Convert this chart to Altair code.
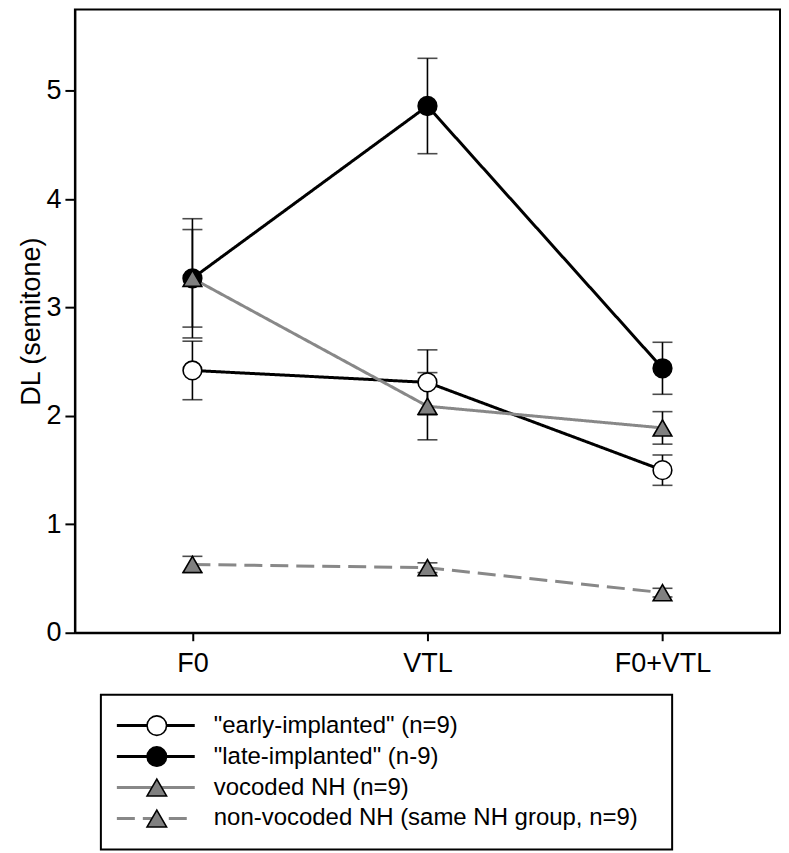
import altair as alt
import pandas as pd

# ---------------- data ----------------
conditions = ["F0", "VTL", "F0+VTL"]
series_names = [
    '"early-implanted" (n=9)',
    '"late-implanted" (n-9)',
    'vocoded NH (n=9)',
    'non-vocoded NH (same NH group, n=9)',
]
early_mean = [2.42, 2.31, 1.50]
early_err = [0.27, 0.30, 0.14]
late_mean = [3.27, 4.86, 2.44]
late_err = [0.55, 0.44, 0.24]
voc_mean = [3.27, 2.09, 1.89]
voc_err = [0.45, 0.31, 0.15]
nonvoc_mean = [0.63, 0.60, 0.37]
nonvoc_err = [0.075, 0.045, 0.04]
y_ticks = [0, 1, 2, 3, 4, 5]

# ---------------- styles ----------------
line_colors = ["#000000", "#000000", "#888888", "#888888"]
marker_fills = ["#ffffff", "#000000", "#808080", "#808080"]
marker_shapes = ["circle", "circle", "triangle-up", "triangle-up"]
dashes = [[1, 0], [1, 0], [1, 0], [18, 8]]
FONT = "Liberation Sans"

means = [early_mean, late_mean, voc_mean, nonvoc_mean]
errs = [early_err, late_err, voc_err, nonvoc_err]
rows = []
for s, m_list, e_list in zip(series_names, means, errs):
    for c, m, e in zip(conditions, m_list, e_list):
        rows.append({"series": s, "cond": c, "mean": m, "err": e})
df = pd.DataFrame(rows)

x_enc = alt.X(
    "cond:N",
    sort=conditions,
    scale=alt.Scale(type="point", domain=conditions, padding=0.5),
    axis=alt.Axis(
        title=None, labelAngle=0, labelFontSize=27, labelFont=FONT,
        labelColor="black", tickColor="black", tickSize=8, tickWidth=2,
        domainColor="black", domainWidth=2, labelPadding=10, grid=False,
    ),
)
y_scale = alt.Scale(domain=[0, 5.75], nice=False, zero=True)
y_axis = alt.Axis(
    values=y_ticks, title="DL (semitone)", grid=False, tickSize=10, tickWidth=2,
    labelFontSize=27, labelFont=FONT, labelColor="black", labelPadding=4,
    titleFontSize=27, titleFont=FONT, titleFontWeight="normal", titleColor="black",
    titlePadding=0, tickColor="black", domainColor="black", domainWidth=2,
)


def yq(field):
    return alt.Y(field, scale=y_scale, axis=y_axis, title="DL (semitone)")


base = alt.Chart(df).transform_calculate(
    lo="datum.mean - datum.err", hi="datum.mean + datum.err"
)

lines = base.mark_line(strokeWidth=3).encode(
    x=x_enc,
    y=yq("mean:Q"),
    color=alt.Color("series:N", scale=alt.Scale(domain=series_names, range=line_colors), legend=None),
    strokeDash=alt.StrokeDash("series:N", scale=alt.Scale(domain=series_names, range=dashes), legend=None),
)

err_rule = base.mark_rule(color="black", strokeWidth=1.6).encode(
    x=x_enc,
    y=yq("lo:Q"),
    y2="hi:Q",
)
cap_lo = base.mark_tick(color="black", size=20, thickness=1.6).encode(
    x=x_enc, y=yq("lo:Q")
)
cap_hi = base.mark_tick(color="black", size=20, thickness=1.6).encode(
    x=x_enc, y=yq("hi:Q")
)

points = base.mark_point(filled=True, opacity=1, stroke="black", strokeWidth=1.6, size=350).encode(
    x=x_enc,
    y=yq("mean:Q"),
    shape=alt.Shape("series:N", scale=alt.Scale(domain=series_names, range=marker_shapes), legend=None),
    fill=alt.Fill("series:N", scale=alt.Scale(domain=series_names, range=marker_fills), legend=None),
)

main = alt.layer(lines, err_rule, cap_lo, cap_hi, points).properties(
    width=706, height=624,
    view=alt.ViewBackground(stroke="black", strokeWidth=2),
)

# ---------------- custom legend ----------------
leg_df = pd.DataFrame({"series": series_names})
leg_y = alt.Y(
    "series:N", sort=series_names,
    scale=alt.Scale(type="point", domain=series_names, padding=1.12), axis=None,
)
leg_base = alt.Chart(leg_df)
leg_lines = leg_base.mark_rule(strokeWidth=3).encode(
    x=alt.value(16), x2=alt.value(94), y=leg_y,
    color=alt.Color("series:N", scale=alt.Scale(domain=series_names, range=line_colors), legend=None),
    strokeDash=alt.StrokeDash("series:N", scale=alt.Scale(domain=series_names, range=dashes), legend=None),
)
leg_points = leg_base.mark_point(filled=True, opacity=1, stroke="black", strokeWidth=1.6, size=380).encode(
    x=alt.value(56), y=leg_y,
    shape=alt.Shape("series:N", scale=alt.Scale(domain=series_names, range=marker_shapes), legend=None),
    fill=alt.Fill("series:N", scale=alt.Scale(domain=series_names, range=marker_fills), legend=None),
)
leg_text = leg_base.mark_text(align="left", baseline="middle", fontSize=24, font=FONT, color="black").encode(
    x=alt.value(113), y=leg_y, text="series:N",
)
legend = alt.layer(leg_lines, leg_points, leg_text).properties(
    width=572, height=155,
    view=alt.ViewBackground(stroke="black", strokeWidth=2),
)

spacer = alt.Chart(leg_df).mark_point(opacity=0).encode(
    x=alt.value(0), y=alt.value(0)
).properties(width=15, height=155, view=alt.ViewBackground(strokeOpacity=0))

chart = alt.vconcat(
    main,
    alt.hconcat(spacer, legend, spacing=10),
    spacing=14,
).properties(
    padding={"left": 8, "top": 0, "right": 0, "bottom": 0},
).configure(font=FONT, background="white")

chart.save("out.html", embed_options={"renderer": "svg", "actions": False})
